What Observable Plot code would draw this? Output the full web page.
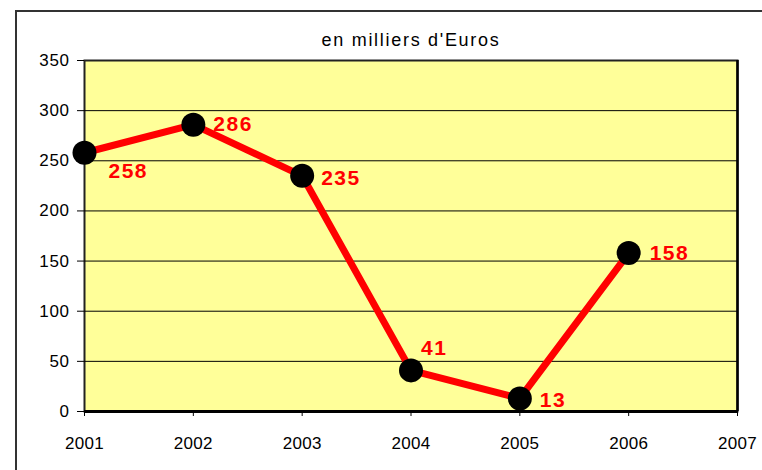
<!DOCTYPE html>
<html><head><meta charset="utf-8">
<script src="https://cdn.jsdelivr.net/npm/d3@7"></script>
<script src="https://cdn.jsdelivr.net/npm/@observablehq/plot@0.6"></script>
<style>
body{margin:0;background:#fff;font-family:"Liberation Sans",Arial,sans-serif;}
#wrap{position:relative;width:762px;height:470px;overflow:hidden;}
#border{position:absolute;left:15px;top:10px;width:900px;height:600px;border-left:2px solid #333;border-top:2px solid #333;}
#chart{position:absolute;left:0;top:0;}
.ttl text{letter-spacing:1.7px;}
.ay text{letter-spacing:0.6px;}
.ax text{letter-spacing:0.3px;}
.lbl text{letter-spacing:1.5px;}
</style></head>
<body>
<div id="wrap"><div id="border"></div><div id="chart"></div></div>
<script>
const years = [2001, 2002, 2003, 2004, 2005, 2006];
const values = [258, 286, 235, 41, 13, 158];
const xTicks = [2001, 2002, 2003, 2004, 2005, 2006, 2007];
const yTicks = [0, 50, 100, 150, 200, 250, 300, 350];
const title = "en milliers d'Euros";

const data = years.map((y, i) => ({year: y, value: values[i], i}));
// label placement (offsets relative to points)
const place = [[24, 19], [20, 0], [19, 2], [10, -22], [20, 2], [21, 0]];

const plot = Plot.plot({
  width: 762, height: 470,
  marginLeft: 84, marginRight: 25, marginTop: 60, marginBottom: 59,
  style: {fontFamily: '"Liberation Sans", Arial, sans-serif', background: "transparent"},
  x: {domain: [2001, 2007], label: null},
  y: {domain: [0, 350], label: null},
  marks: [
    Plot.frame({fill: "#FFFF99", stroke: "#222", strokeWidth: 2}),
    Plot.gridY(yTicks.filter(d => d > 0 && d < 350), {stroke: "#000", strokeOpacity: 1, strokeWidth: 1}),
    Plot.axisY({ticks: yTicks, tickSize: 7, tickPadding: 8, fontSize: 17, stroke: "#000", fill: "#000", className: "ay"}),
    Plot.axisX({ticks: xTicks, tickFormat: d => String(d), tickSize: 5, tickPadding: 20, fontSize: 17, stroke: "#000", fill: "#000", className: "ax"}),
    Plot.ruleY([0], {stroke: "#000", strokeWidth: 3}),
    Plot.ruleX([2007], {stroke: "#000", strokeWidth: 2.5}),
    Plot.line(data, {x: "year", y: "value", stroke: "#FF0000", strokeWidth: 7}),
    Plot.dot(data, {x: "year", y: "value", r: 12, fill: "#000", stroke: "none"}),
    ...data.map((d, k) => Plot.text([d], {
      x: "year", y: "value", text: d => String(d.value),
      dx: place[k][0], dy: place[k][1], textAnchor: "start",
      fill: "#FF0000", fontWeight: "bold", fontSize: 21, className: "lbl"
    })),
    Plot.text([title], {frameAnchor: "top", dy: -20, lineAnchor: "middle", fontSize: 18, fill: "#000", className: "ttl"})
  ]
});
document.getElementById("chart").appendChild(plot);
</script>
</body></html>
